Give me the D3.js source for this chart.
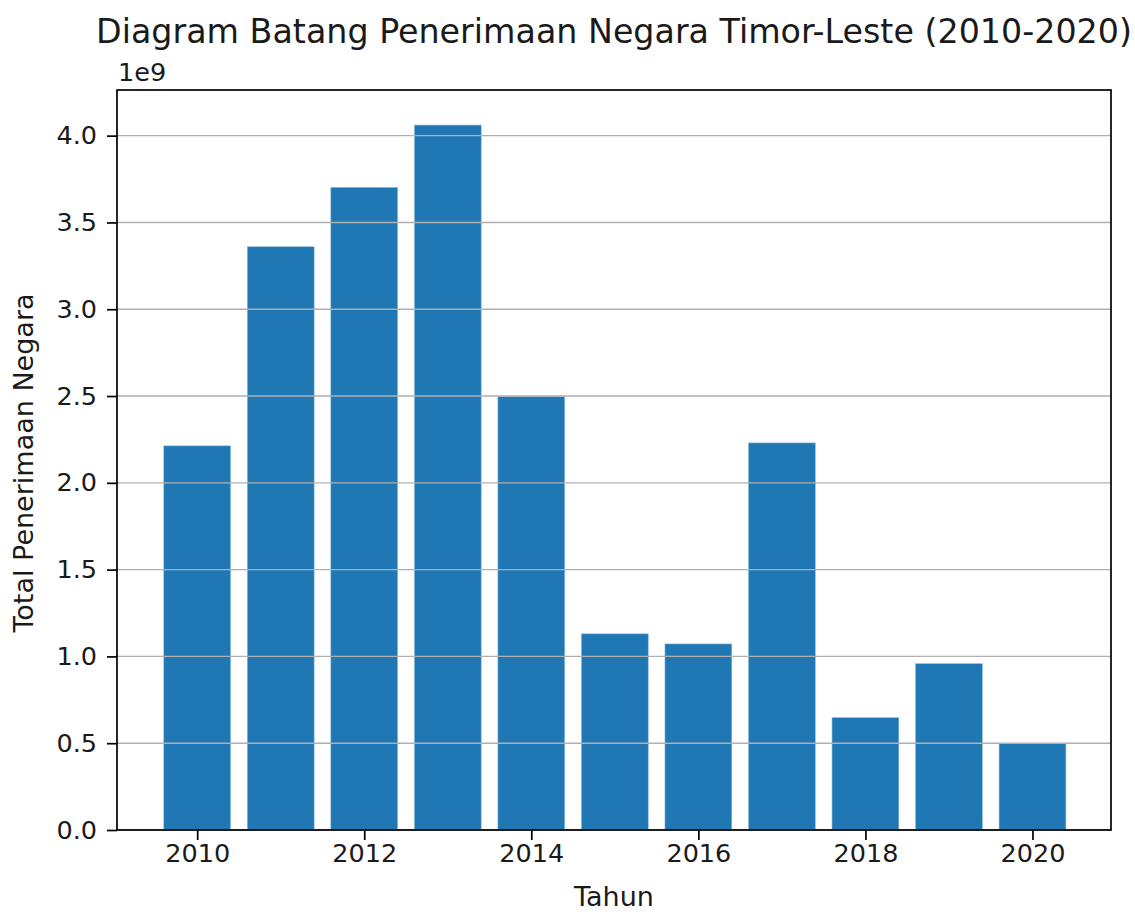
<!DOCTYPE html>
<html>
<head>
  <meta http-equiv="Content-Type" content="text/html;charset=utf-8" />
  <script src="https://cdn.jsdelivr.net/npm/d3@7"></script>
  <style type="text/css">
    body { margin: 0; background: #fff; }
    text { font-family: "DejaVu Sans", sans-serif; fill: #1a1a1a; }
  </style>
</head>
<body>
  <svg id="c" width="1135" height="912"></svg>
  <script>
    // data (values in units of 1e9)
    const years = [2010, 2011, 2012, 2013, 2014, 2015, 2016, 2017, 2018, 2019, 2020];
    const revenue = [2.213, 3.36, 3.702, 4.061, 2.496, 1.13, 1.072, 2.23, 0.647, 0.958, 0.499];
    const yTicks = [0, 0.5, 1.0, 1.5, 2.0, 2.5, 3.0, 3.5, 4.0];
    const xTicks = [2010, 2012, 2014, 2016, 2018, 2020];

    const svg = d3.select("#c");
    const plotLeft = 117, plotRight = 1111, plotTop = 90, plotBottom = 830;

    const x = d3.scaleLinear().domain([2009.04, 2020.94]).range([plotLeft, plotRight]);
    const y = d3.scaleLinear().domain([0, 4.263]).range([plotBottom, plotTop]);
    const barW = x(2010.8) - x(2010);

    // bars
    svg.append("g").selectAll("rect")
      .data(years)
      .join("rect")
      .attr("x", (d) => x(d) - barW / 2)
      .attr("y", (d, i) => y(revenue[i]))
      .attr("width", barW)
      .attr("height", (d, i) => y(0) - y(revenue[i]))
      .attr("fill", "#1f77b4")
      .attr("stroke", "#8fbbd9")
      .attr("stroke-width", 0.6);

    // horizontal grid, drawn over the bars
    svg.append("g").selectAll("line")
      .data(yTicks)
      .join("line")
      .attr("x1", plotLeft).attr("x2", plotRight)
      .attr("y1", (d) => y(d)).attr("y2", (d) => y(d))
      .attr("stroke", "#b0b0b0")
      .attr("stroke-width", 1.4);

    // axes
    const yAxis = svg.append("g")
      .attr("transform", `translate(${plotLeft},0)`)
      .call(d3.axisLeft(y).tickValues(yTicks).tickFormat(d3.format(".1f")).tickSize(10).tickPadding(10));
    const xAxis = svg.append("g")
      .attr("transform", `translate(0,${plotBottom})`)
      .call(d3.axisBottom(x).tickValues(xTicks).tickFormat(d3.format("d")).tickSize(10).tickPadding(4));

    [yAxis, xAxis].forEach((g) => {
      g.select(".domain").remove();
      g.selectAll(".tick line").attr("stroke", "#000").attr("stroke-width", 1.7);
      g.selectAll(".tick text").style("font-size", "25.5px").attr("fill", "#1a1a1a");
    });

    // frame
    svg.append("rect")
      .attr("x", plotLeft).attr("y", plotTop)
      .attr("width", plotRight - plotLeft).attr("height", plotBottom - plotTop)
      .attr("fill", "none")
      .attr("stroke", "#000")
      .attr("stroke-width", 1.7);

    // texts
    svg.append("text")
      .attr("x", (plotLeft + plotRight) / 2).attr("y", 43)
      .attr("text-anchor", "middle")
      .style("font-size", "33.3px")
      .text("Diagram Batang Penerimaan Negara Timor-Leste (2010-2020)");

    svg.append("text")
      .attr("x", plotLeft + 1).attr("y", 81)
      .style("font-size", "25.5px")
      .text("1e9");

    svg.append("text")
      .attr("x", (plotLeft + plotRight) / 2).attr("y", 906)
      .attr("text-anchor", "middle")
      .style("font-size", "27px")
      .text("Tahun");

    svg.append("text")
      .attr("transform", `translate(33,${(plotTop + plotBottom) / 2 + 3}) rotate(-90)`)
      .attr("text-anchor", "middle")
      .style("font-size", "27px")
      .text("Total Penerimaan Negara");
  </script>
</body>
</html>
